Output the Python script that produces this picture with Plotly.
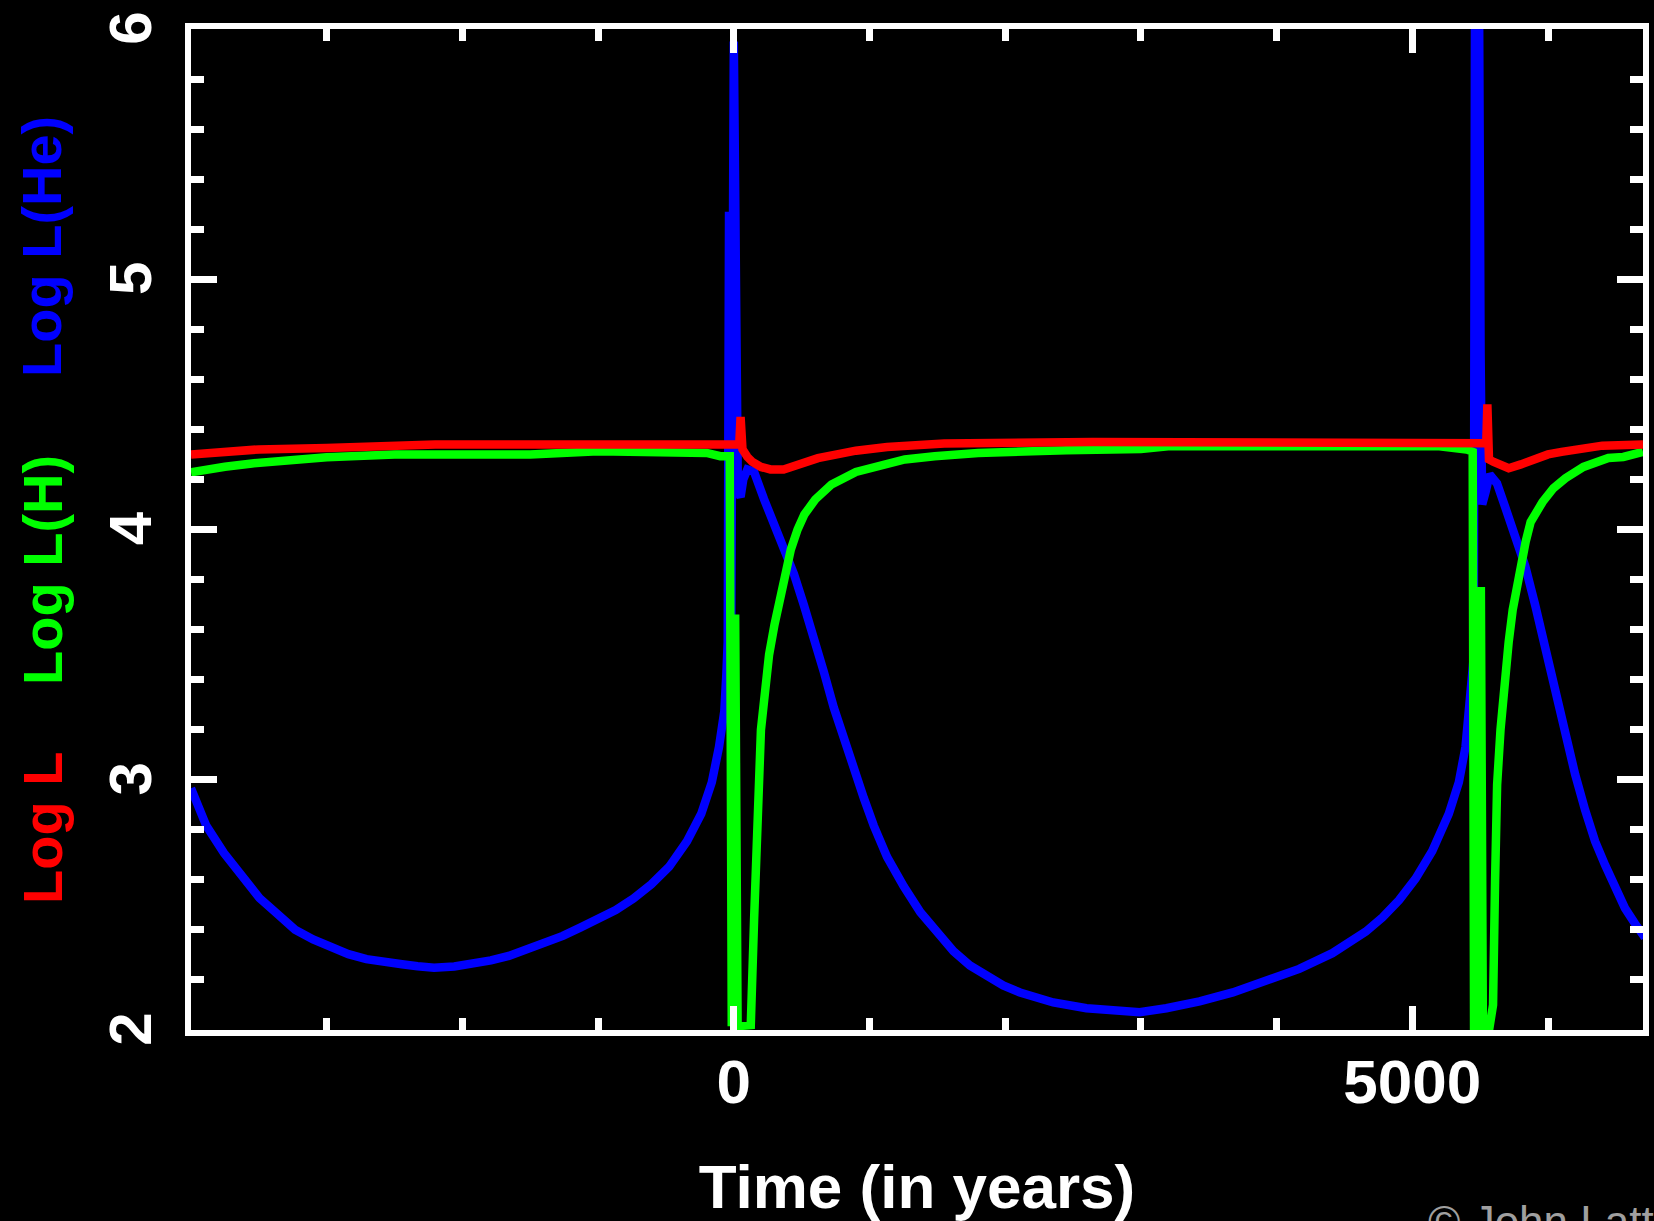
import plotly.graph_objects as go

# ---------------- data ----------------
time_L = [-4000, -3800, -3500, -3000, -2200, -1000, -50, 40, 50, 58, 64, 100, 137, 200, 270, 367,
          450, 520, 620, 760, 900, 1130, 1550, 2645, 4000, 5440, 5545, 5553, 5565, 5600, 5650,
          5710, 5800, 5900, 6000, 6100, 6250, 6400, 6700]
log_L = [4.30, 4.31, 4.32, 4.326, 4.34, 4.34, 4.338, 4.34, 4.45, 4.33, 4.32, 4.29, 4.27, 4.25, 4.24, 4.24,
         4.255, 4.27, 4.285, 4.30, 4.315, 4.33, 4.344, 4.35, 4.35, 4.348, 4.345, 4.50, 4.28, 4.27, 4.255,
         4.245, 4.26, 4.28, 4.30, 4.31, 4.325, 4.335, 4.34]

time_H = [-4000, -3900, -3750, -3550, -3350, -3000, -2500, -1500, -1000, -400, -200, -100, -30,
          -15, 10, 28, 60, 125, 150, 175, 200, 230, 260, 300, 340, 380, 420, 470, 520, 600, 720,
          900, 1070, 1260, 1480, 1800, 2450, 3000, 3200, 5200, 5400, 5445,
          5455, 5480, 5505, 5520, 5570, 5595, 5610, 5625, 5650, 5680, 5710, 5740, 5790, 5835,
          5872, 5960, 6040, 6129, 6261, 6445, 6555, 6700]
log_LH = [4.229, 4.239, 4.251, 4.264, 4.276, 4.289, 4.30, 4.30, 4.313, 4.313, 4.306, 4.293, 4.293,
          2.015, 3.66, 2.015, 2.015, 2.02, 2.45, 2.9, 3.2, 3.35, 3.5, 3.62, 3.72, 3.83, 3.92, 4.0, 4.06,
          4.12, 4.18, 4.23, 4.255, 4.28, 4.293, 4.306, 4.317, 4.322, 4.333, 4.333, 4.32, 4.31,
          2.015, 2.015, 3.77, 2.015, 2.015, 2.1, 2.6, 2.98, 3.2, 3.4, 3.55, 3.68, 3.84, 3.95,
          4.03, 4.11, 4.165, 4.205, 4.25, 4.286, 4.29, 4.31]

time_He = [-4000, -3888, -3757, -3626, -3495, -3364, -3233, -3100, -2970, -2840, -2707, -2575,
           -2445, -2330, -2209, -2060, -1920, -1790, -1658, -1530, -1395, -1260, -1132, -1000,
           -870, -740, -608, -477, -345, -240, -162, -109, -70, -55, -45,
           -35, -20, 0, 30, 50, 70, 100, 149, 223, 296, 370, 443, 517, 590, 664, 737, 811, 884,
           958, 1031, 1129, 1252, 1374, 1497, 1619, 1740, 1864, 1985, 2109, 2230, 2354, 2599,
           2844, 2991, 3187, 3432, 3677, 3922, 4167, 4411, 4535, 4657, 4780, 4902, 5024, 5147,
           5269, 5343, 5392, 5428, 5453,
           5462, 5492, 5503, 5515, 5540, 5570, 5600, 5624, 5685, 5759, 5832, 5906, 5979, 6053,
           6126, 6200, 6273, 6347, 6420, 6494, 6567, 6641, 6714]
log_LHe = [2.966, 2.817, 2.707, 2.613, 2.527, 2.464, 2.401, 2.362, 2.330, 2.303, 2.283, 2.270,
           2.263, 2.255, 2.249, 2.254, 2.263, 2.278, 2.296, 2.319, 2.346, 2.376, 2.409, 2.443,
           2.479, 2.525, 2.582, 2.652, 2.754, 2.864, 2.990, 3.131, 3.273, 3.42, 3.55,
           5.27, 3.45, 5.95, 4.15, 4.13, 4.20, 4.24, 4.231, 4.121, 4.027, 3.932, 3.822, 3.697,
           3.571, 3.430, 3.288, 3.163, 3.037, 2.927, 2.817, 2.692, 2.574, 2.471, 2.393, 2.315,
           2.258, 2.213, 2.178, 2.150, 2.128, 2.110, 2.087, 2.074, 2.071, 2.087, 2.114, 2.150,
           2.197, 2.244, 2.307, 2.346, 2.393, 2.450, 2.519, 2.605, 2.715, 2.864, 2.990, 3.131,
           3.336, 3.493,
           6.1, 6.1, 4.7, 4.1, 4.15, 4.22, 4.20, 4.184, 4.089, 3.964, 3.854, 3.697, 3.524, 3.351,
           3.179, 3.021, 2.880, 2.754, 2.660, 2.574, 2.487, 2.425, 2.369]

x_range = [-4000, 6700]
y_range = [2, 6]
x_title = "Time (in years)"
label_L, label_H, label_He = "Log L", "Log L(H)", "Log L(He)"
credit = "© John Lattanzio"

# ---------------- figure ----------------
W, H = 1654, 1221
ML, MR, MT, MB = 191, 11, 29, 191
PW, PH = W - ML - MR, H - MT - MB

def px_to_paper(px, py):
    return (px - ML) / PW, (H - MB - py) / PH

FONT = "Liberation Sans, Arial, sans-serif"
LW = 8.5

fig = go.Figure()
fig.add_trace(go.Scatter(x=time_He, y=log_LHe, mode="lines",
                         line=dict(color="#0000ff", width=LW), name=label_He))
fig.add_trace(go.Scatter(x=time_H, y=log_LH, mode="lines",
                         line=dict(color="#00ff00", width=LW), name=label_H))
fig.add_trace(go.Scatter(x=time_L, y=log_L, mode="lines",
                         line=dict(color="#ff0000", width=LW), name=label_L))

axis_common = dict(
    showgrid=False, zeroline=False, showline=True, linewidth=6, linecolor="white",
    mirror="allticks", ticks="inside", tickcolor="white", tickwidth=7,
    exponentformat="none", separatethousands=False, automargin=False,
)

fig.update_layout(
    width=W, height=H,
    margin=dict(l=ML, r=MR, t=MT, b=MB, pad=0, autoexpand=False),
    paper_bgcolor="black", plot_bgcolor="black",
    showlegend=False,
    xaxis=dict(range=x_range, tickmode="linear", tick0=0, dtick=5000, ticklen=24,
               ticklabelstandoff=-7,
               tickfont=dict(family=FONT, size=62, color="white", weight="bold"),
               minor=dict(dtick=1000, ticks="inside", ticklen=12, tickwidth=7, tickcolor="white"),
               title=dict(text=x_title, font=dict(family=FONT, size=62, color="white", weight="bold"),
                          standoff=56),
               **axis_common),
    yaxis=dict(range=y_range, tickmode="linear", tick0=2, dtick=1, ticklen=26, tickangle=-90,
               ticklabelstandoff=10, ticklabelshift=8,
               tickfont=dict(family=FONT, size=60, color="white", weight="bold"),
               minor=dict(dtick=0.2, ticks="inside", ticklen=13, tickwidth=7, tickcolor="white"),
               **axis_common),
)

for text, color, cy in [(label_L, "#ff0000", 828), (label_H, "#00ff00", 570), (label_He, "#0000ff", 247)]:
    ax_, ay_ = px_to_paper(42, cy)
    fig.add_annotation(text=text, x=ax_, y=ay_, xref="paper", yref="paper", showarrow=False,
                       textangle=-90, xanchor="center", yanchor="middle",
                       font=dict(family=FONT, size=56, color=color, weight="bold"))

cx, cy = px_to_paper(1426, 1195)
fig.add_annotation(text=credit, x=cx, y=cy, xref="paper", yref="paper", showarrow=False,
                   xanchor="left", yanchor="top",
                   font=dict(family=FONT, size=44, color="#a0a0a0"))

fig.write_html("out.html")
